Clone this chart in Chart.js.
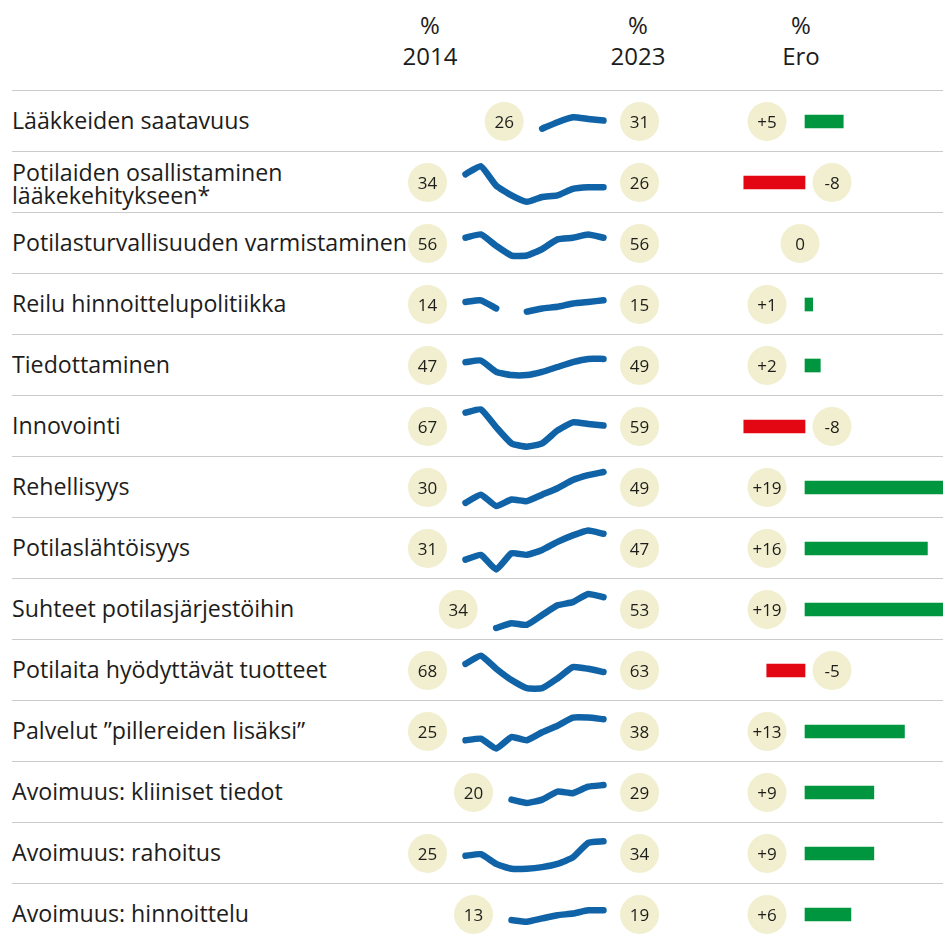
<!DOCTYPE html>
<html lang="fi">
<head>
<meta charset="utf-8">
<title>Lääketeollisuuden maine 2014–2023</title>
<script src="https://cdn.jsdelivr.net/npm/chart.js@4.4.1/dist/chart.umd.min.js"></script>
<style>
  body { margin: 0; background: #fff; font-family: 'Open Sans', sans-serif; color: #1d1d1b; }
  #wrap { position: relative; width: 943px; height: 938px; overflow: hidden; }
  .head { position: absolute; top: 9px; width: 120px; text-align: center; font-size: 24px; line-height: 31px; }
  .line { position: absolute; left: 12px; right: 0; height: 0; border-top: 1.5px solid #cbcbcb; }
  .label { position: absolute; left: 12px; height: 61px; display: flex; align-items: center; font-size: 23.2px; line-height: 22.5px; white-space: nowrap; }
  .label.two { padding-top: 4px; height: 57px; }
  canvas { position: absolute; }
</style>
</head>
<body>
<div id="wrap">
  <div class="head" style="left:370px">%<br>2014</div>
  <div class="head" style="left:578px">%<br>2023</div>
  <div class="head" style="left:741px">%<br>Ero</div>
</div>

<script>
// rivien nimet
const labels = [
  'Lääkkeiden saatavuus',
  'Potilaiden osallistaminen\nlääkekehitykseen*',
  'Potilasturvallisuuden varmistaminen',
  'Reilu hinnoittelupolitiikka',
  'Tiedottaminen',
  'Innovointi',
  'Rehellisyys',
  'Potilaslähtöisyys',
  'Suhteet potilasjärjestöihin',
  'Potilaita hyödyttävät tuotteet',
  'Palvelut ”pillereiden lisäksi”',
  'Avoimuus: kliiniset tiedot',
  'Avoimuus: rahoitus',
  'Avoimuus: hinnoittelu'
];

const years = [2014, 2015, 2016, 2017, 2018, 2019, 2020, 2021, 2022, 2023];

// prosentit vuosittain (null = ei mitattu)
const saatavuus = [null, null, null, null, null, 26, 30, 33, 32, 31];
const osallistaminen = [34, 39, 27, 21, 17, 20, 21, 25, 26, 26];
const turvallisuus = [56, 58, 51, 45, 45, 49, 55, 56, 58, 56];
const hinnoittelupolitiikka = [14, 15, 10, null, 8, 10, 11, 13, 14, 15];
const tiedottaminen = [47, 48, 41, 39, 39, 41, 44, 47, 49, 49];
const innovointi = [67, 69, 58, 48, 46, 48, 56, 61, 60, 59];
const rehellisyys = [30, 35, 28, 32, 31, 35, 39, 44, 47, 49];
const potilaslahtoisyys = [31, 34, 25, 35, 34, 37, 42, 46, 49, 47];
const jarjestot = [null, null, 34, 37, 36, 42, 48, 50, 55, 53];
const tuotteet = [68, 73, 65, 58, 53, 53, 59, 66, 65, 63];
const palvelut = [25, 26, 20, 27, 25, 30, 34, 39, 39, 38];
const kliiniset = [null, null, null, 20, 18, 20, 25, 24, 28, 29];
const rahoitus = [25, 26, 20, 17, 17, 18, 20, 24, 33, 34];
const hinnoittelu = [null, null, null, 13, 12, 14, 16, 17, 19, 19];

const series = [saatavuus, osallistaminen, turvallisuus, hinnoittelupolitiikka, tiedottaminen,
  innovointi, rehellisyys, potilaslahtoisyys, jarjestot, tuotteet, palvelut, kliiniset, rahoitus, hinnoittelu];

// muutos prosenttiyksikköinä
const ero = [5, -8, 0, 1, 2, -8, 19, 16, 19, -5, 13, 9, 9, 6];

const wrap = document.getElementById('wrap');
const rowTop = 90;
const rowH = 61;

function drawCircle(ctx, x, y, text) {
  ctx.save();
  ctx.beginPath();
  ctx.arc(x, y, 19.5, 0, Math.PI * 2);
  ctx.fillStyle = '#f1efcf';
  ctx.fill();
  ctx.fillStyle = '#1d1d1b';
  ctx.font = '17px "Open Sans", sans-serif';
  ctx.textAlign = 'center';
  ctx.textBaseline = 'alphabetic';
  ctx.fillText(text, x, y + 6);
  ctx.restore();
}

// alku- ja loppuarvon pallot viivan päihin
const endCircles = {
  id: 'endCircles',
  afterDatasetsDraw(chart) {
    const data = chart.data.datasets[0].data;
    const first = data.findIndex(v => v !== null);
    const last = data.length - 1;
    const x = chart.scales.x;
    const cy = chart.height / 2 + 1;
    drawCircle(chart.ctx, x.getPixelForValue(first) - 38, cy, String(data[first]));
    drawCircle(chart.ctx, x.getPixelForValue(last) + 36, cy, String(data[last]));
  }
};

// erotuksen pallot palkkien viereen
const eroCircles = {
  id: 'eroCircles',
  afterDatasetsDraw(chart) {
    const x0 = chart.scales.x.getPixelForValue(0);
    chart.getDatasetMeta(0).data.forEach((bar, i) => {
      const v = ero[i];
      let cx = x0 - 38;
      if (v < 0) cx = x0 + 27;
      if (v === 0) cx = x0 - 5;
      drawCircle(chart.ctx, cx, bar.y, v > 0 ? '+' + v : String(v));
    });
  }
};

// rivit: viiva, nimi ja pikkukäyrä
labels.forEach((name, i) => {
  const top = rowTop + i * rowH;

  const line = document.createElement('div');
  line.className = 'line';
  line.style.top = top + 'px';
  wrap.appendChild(line);

  const lab = document.createElement('div');
  lab.className = name.includes('\n') ? 'label two' : 'label';
  lab.style.top = top + 'px';
  lab.innerHTML = name.split('\n').join('<br>');
  wrap.appendChild(lab);

  const cv = document.createElement('canvas');
  cv.width = 270;
  cv.height = rowH;
  cv.style.left = '400px';
  cv.style.top = top + 'px';
  wrap.appendChild(cv);

  const vals = series[i].filter(v => v !== null);
  const mid = (Math.min(...vals) + Math.max(...vals)) / 2;
  const pxPerUnit = 1.62;
  const yMax = mid + 33 / pxPerUnit;

  new Chart(cv, {
    type: 'line',
    data: {
      labels: years,
      datasets: [{
        data: series[i],
        borderColor: '#1063a6',
        borderWidth: 6.5,
        borderCapStyle: 'round',
        borderJoinStyle: 'round',
        pointRadius: 0,
        tension: 0.15,
        spanGaps: false,
        clip: false
      }]
    },
    options: {
      responsive: false,
      animation: false,
      layout: { padding: { left: 65.5, right: 66.5, top: 0, bottom: 0 } },
      scales: {
        x: { display: false },
        y: { display: false, min: yMax - rowH / pxPerUnit, max: yMax }
      },
      plugins: { legend: { display: false }, tooltip: { enabled: false } }
    },
    plugins: [endCircles]
  });
});

// erotuspalkit yhteen kaavioon
const eroCanvas = document.createElement('canvas');
eroCanvas.width = 300;
eroCanvas.height = rowH * labels.length;
eroCanvas.style.left = '700px';
eroCanvas.style.top = (rowTop + 1) + 'px';
wrap.appendChild(eroCanvas);

const unit = 7.65;
const eroMin = -(805 - 700) / unit;

new Chart(eroCanvas, {
  type: 'bar',
  data: {
    labels: labels,
    datasets: [{
      data: ero,
      backgroundColor: ero.map(v => v < 0 ? '#e30613' : '#009640'),
      barThickness: 13
    }]
  },
  options: {
    indexAxis: 'y',
    responsive: false,
    animation: false,
    layout: { padding: 0 },
    scales: {
      x: { display: false, min: eroMin, max: eroMin + 300 / unit },
      y: { display: false }
    },
    plugins: { legend: { display: false }, tooltip: { enabled: false } }
  },
  plugins: [eroCircles]
});
</script>
</body>
</html>
